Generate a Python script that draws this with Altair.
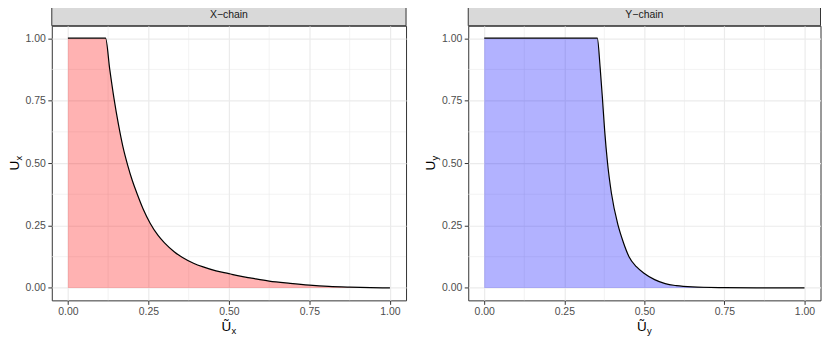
import altair as alt
import pandas as pd

# ---- data ----
x_chain_u = [0.0, 0.117, 0.130, 0.143, 0.157, 0.171, 0.186, 0.200, 0.214, 0.234, 0.255,
             0.28, 0.30, 0.33, 0.356, 0.39, 0.42, 0.46, 0.50, 0.531, 0.57, 0.625, 0.69,
             0.75, 0.81, 0.875, 0.94, 1.0]
x_chain_v = [1.0, 1.0, 0.875, 0.76, 0.655, 0.565, 0.49, 0.43, 0.38, 0.315, 0.26,
             0.21, 0.18, 0.145, 0.122, 0.099, 0.084, 0.068, 0.057, 0.048, 0.039, 0.027, 0.018,
             0.011, 0.006, 0.003, 0.001, 0.0]

y_chain_u = [0.0, 0.353, 0.362, 0.369, 0.376, 0.385, 0.397, 0.418, 0.435, 0.452, 0.475,
             0.50, 0.532, 0.565, 0.60, 0.65, 0.75, 0.85, 1.0]
y_chain_v = [1.0, 1.0, 0.88, 0.76, 0.63, 0.5, 0.38, 0.25, 0.18, 0.125, 0.085,
             0.058, 0.033, 0.017, 0.009, 0.004, 0.001, 0.0, 0.0]

strip_labels = ["X\u2212chain", "Y\u2212chain"]
subscripts = ["x", "y"]
fills = ["#FF0000", "#0000FF"]
major_ticks = [0.0, 0.25, 0.5, 0.75, 1.0]
minor_grid = [0.125, 0.375, 0.625, 0.875]

FONT = "Liberation Sans"
H = 276
STRIP = 21


def panel(u, v, label, sub, fill, W):
    df = pd.DataFrame({"u": u, "v": v})
    xs = alt.Scale(domain=[-0.05, 1.05], nice=False, zero=False)
    ys = alt.Scale(domain=[-0.05, 1.05], nice=False, zero=False)
    axis_common = dict(values=major_ticks, format=".2f", grid=True, gridColor="#EBEBEB",
                       gridWidth=1.2, domain=False, tickColor="#333333", tickSize=4,
                       tickWidth=1, labelColor="#4D4D4D", labelFontSize=10.5,
                       labelFont=FONT, labelPadding=2.5, title=None)
    grid_df = pd.DataFrame({"g": minor_grid})
    minor_v = alt.Chart(grid_df).mark_rule(color="#EBEBEB", strokeWidth=0.6).encode(
        x=alt.X("g:Q", scale=xs, axis=alt.Axis(**axis_common)))
    minor_h = alt.Chart(grid_df).mark_rule(color="#EBEBEB", strokeWidth=0.6).encode(
        y=alt.Y("g:Q", scale=ys, axis=alt.Axis(**axis_common)))
    base = alt.Chart(df).encode(
        x=alt.X("u:Q", scale=xs, axis=alt.Axis(**axis_common)),
        y=alt.Y("v:Q", scale=ys, axis=alt.Axis(**axis_common)),
    )
    area = base.mark_area(color=fill, fillOpacity=0.3, interpolate="monotone")
    line = base.mark_line(color="black", strokeWidth=1.2, interpolate="monotone")

    lab = pd.DataFrame({"label": [label], "U": ["U"], "Ut": ["\u0168"], "s": [sub]})
    lc = alt.Chart(lab)
    strip_rect = lc.mark_rect(fill="#D9D9D9", stroke="#333333", strokeWidth=1).encode(
        x=alt.value(0), x2=alt.value(W), y=alt.value(-STRIP), y2=alt.value(0))
    strip_text = lc.mark_text(font=FONT, fontSize=10.5, color="#1A1A1A", baseline="middle",
                              align="center").encode(
        text="label:N", x=alt.value(W / 2), y=alt.value(-STRIP / 2))

    # y title: U with subscript
    yc = H / 2 + 2.5
    ytitle = lc.mark_text(font=FONT, fontSize=13.5, color="black", angle=270,
                          align="center", baseline="alphabetic").encode(
        text="U:N", x=alt.value(-33), y=alt.value(yc))
    ysub = lc.mark_text(font=FONT, fontSize=9.5, color="black", angle=270,
                        align="center", baseline="alphabetic").encode(
        text="s:N", x=alt.value(-30), y=alt.value(yc - 7.5))
    # x title
    xc = W / 2 - 2.5
    xtitle = lc.mark_text(font=FONT, fontSize=13.5, color="black",
                          align="center", baseline="alphabetic").encode(
        text="Ut:N", x=alt.value(xc), y=alt.value(H + 31))
    xsub = lc.mark_text(font=FONT, fontSize=9.5, color="black",
                        align="center", baseline="alphabetic").encode(
        text="s:N", x=alt.value(xc + 7.5), y=alt.value(H + 34))

    return alt.layer(minor_v, minor_h, area, line, strip_rect, strip_text,
                     ytitle, ysub, xtitle, xsub).properties(
        width=W, height=H, view=alt.ViewBackground(stroke="#333333", strokeWidth=1))


left = panel(x_chain_u, x_chain_v, strip_labels[0], subscripts[0], fills[0], 356)
right = panel(y_chain_u, y_chain_v, strip_labels[1], subscripts[1], fills[1], 354)

chart = alt.hconcat(left, right, spacing=16.5).properties(
    padding={"left": -1, "top": -5, "right": 0, "bottom": 0}
).configure_view(stroke="#333333", strokeWidth=1).configure(background="white")

chart.save("out.html", embed_options={"renderer": "svg", "actions": False})
